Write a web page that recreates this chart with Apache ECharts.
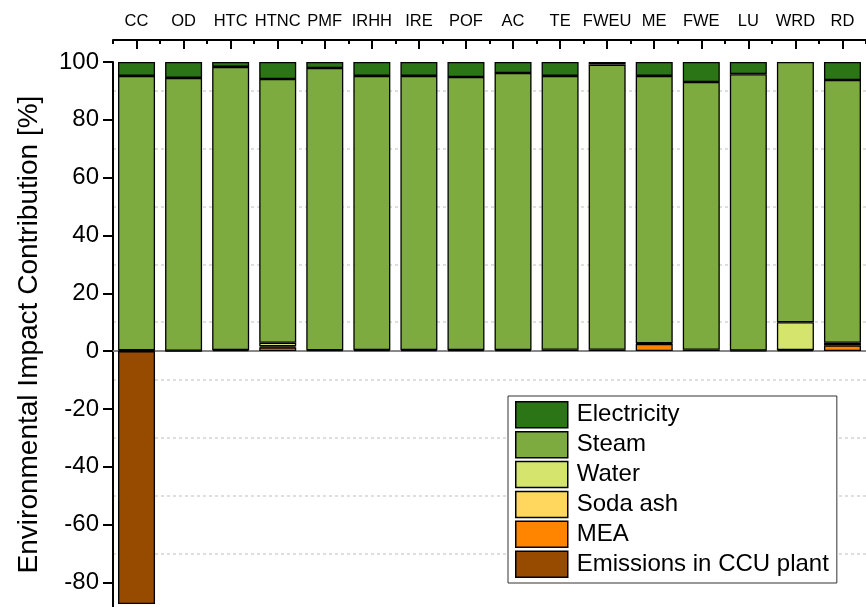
<!DOCTYPE html>
<html>
<head>
<meta charset="utf-8">
<script src="https://cdn.jsdelivr.net/npm/echarts@6/dist/echarts.min.js"></script>
<style>html,body{margin:0;padding:0;background:#fff}#c{width:866px;height:607px}</style>
</head>
<body>
<div id="c"></div>
<script>
const categories = ['CC','OD','HTC','HTNC','PMF','IRHH','IRE','POF','AC','TE','FWEU','ME','FWE','LU','WRD','RD'];
const mea         = [0.3, 0.1, 0.4, 1.3, 0.3, 0.4, 0.4, 0.4, 0.4, 0.5, 0.5, 2.5, 0.5, 0.2, 0.4, 2.0];
const sodaAsh     = [null, null, null, 0.4, null, null, null, null, null, null, null, 0.2, null, null, null, 0.9];
const water       = [null, null, null, 1.2, null, null, null, null, null, null, null, null, null, null, 9.6, null];
const steam       = [94.9, 94.4, 97.9, 91.2, 97.6, 94.8, 94.8, 94.4, 95.8, 94.7, 98.6, 92.5, 92.6, 95.6, 90.0, 90.9];
const electricity = [4.8, 5.5, 1.7, 5.9, 2.1, 4.8, 4.8, 5.2, 3.8, 4.8, 0.9, 4.8, 6.9, 4.2, null, 6.2];
const emissions   = [-87.5, null, null, null, null, null, null, null, null, null, null, null, null, null, null, null];
const majorTicks  = [-80, -60, -40, -20, 0, 20, 40, 60, 80, 100];
const minorTicks  = [-70, -50, -30, -10, 10, 30, 50, 70, 90];

const FONT = 'Liberation Sans, Arial, sans-serif';
const chart = echarts.init(document.getElementById('c'), null, {renderer: 'canvas'});

function bar(name, data, color) {
  return {
    name: name, type: 'bar', stack: 'total', data: data,
    xAxisIndex: 0, yAxisIndex: 0,
    barWidth: 37,
    itemStyle: {color: color, borderColor: '#000', borderWidth: 1.3},
    emphasis: {disabled: true}
  };
}

chart.setOption({
  animation: false,
  backgroundColor: '#fff',
  grid: {left: 113, right: 0, top: 62, bottom: 0, containLabel: false},
  legend: {
    orient: 'vertical', left: 508, top: 396,
    data: ['Electricity', 'Steam', 'Water', 'Soda ash', 'MEA', 'Emissions in CCU plant'],
    itemWidth: 52, itemHeight: 26, itemGap: 2.4,
    padding: [5, 8, 5, 7],
    borderColor: '#333', borderWidth: 1, backgroundColor: '#fff',
    icon: 'rect',
    itemStyle: {borderColor: '#000', borderWidth: 1.5},
    textStyle: {fontFamily: FONT, fontSize: 24, lineHeight: 26, color: '#000', padding: [0, 0, 0, 4]},
    selectedMode: false
  },
  xAxis: [
    {
      type: 'category', data: categories, position: 'top', offset: 22,
      axisLine: {onZero: false, lineStyle: {color: '#000', width: 2}},
      axisTick: {show: true, inside: true, alignWithLabel: false, length: 4, lineStyle: {color: '#000', width: 2}},
      axisLabel: {show: false}, splitLine: {show: false}
    },
    {
      type: 'category', data: categories, position: 'top', offset: 22,
      axisLine: {onZero: false, show: false},
      axisTick: {show: true, inside: true, alignWithLabel: true, length: 9, lineStyle: {color: '#000', width: 2}},
      axisLabel: {show: true, interval: 0, fontFamily: FONT, fontSize: 16.5, color: '#000', margin: 10},
      splitLine: {show: false}
    },
    {
      type: 'category', data: categories, position: 'bottom',
      axisLine: {onZero: true, lineStyle: {color: '#888', width: 2}},
      axisTick: {show: false}, axisLabel: {show: false}, splitLine: {show: false}
    }
  ],
  yAxis: [
    {
      type: 'value', min: -88.5, max: 100,
      name: 'Environmental Impact Contribution [%]', nameLocation: 'middle', nameGap: 70,
      nameTextStyle: {fontFamily: FONT, fontSize: 28, color: '#000'},
      axisLine: {show: true, lineStyle: {color: '#000', width: 2}},
      axisTick: {show: true, customValues: majorTicks, length: 10, lineStyle: {color: '#000', width: 2}},
      axisLabel: {show: true, customValues: majorTicks, fontFamily: FONT, fontSize: 24, color: '#000', margin: 14},
      splitLine: {show: false}
    },
    {
      type: 'value', min: -88.5, max: 100,
      axisLine: {show: false},
      axisTick: {show: true, customValues: minorTicks, length: 5, lineStyle: {color: '#000', width: 2}},
      axisLabel: {show: false},
      splitLine: {show: true, lineStyle: {color: '#d4d4d4', width: 1.5, type: [3, 3]}}
    }
  ],
  series: [
    bar('MEA', mea, '#ff8400'),
    bar('Soda ash', sodaAsh, '#ffd75e'),
    bar('Water', water, '#d4e46c'),
    bar('Steam', steam, '#7dab40'),
    bar('Electricity', electricity, '#2c7517'),
    bar('Emissions in CCU plant', emissions, '#964b00')
  ]
});
</script>
</body>
</html>
